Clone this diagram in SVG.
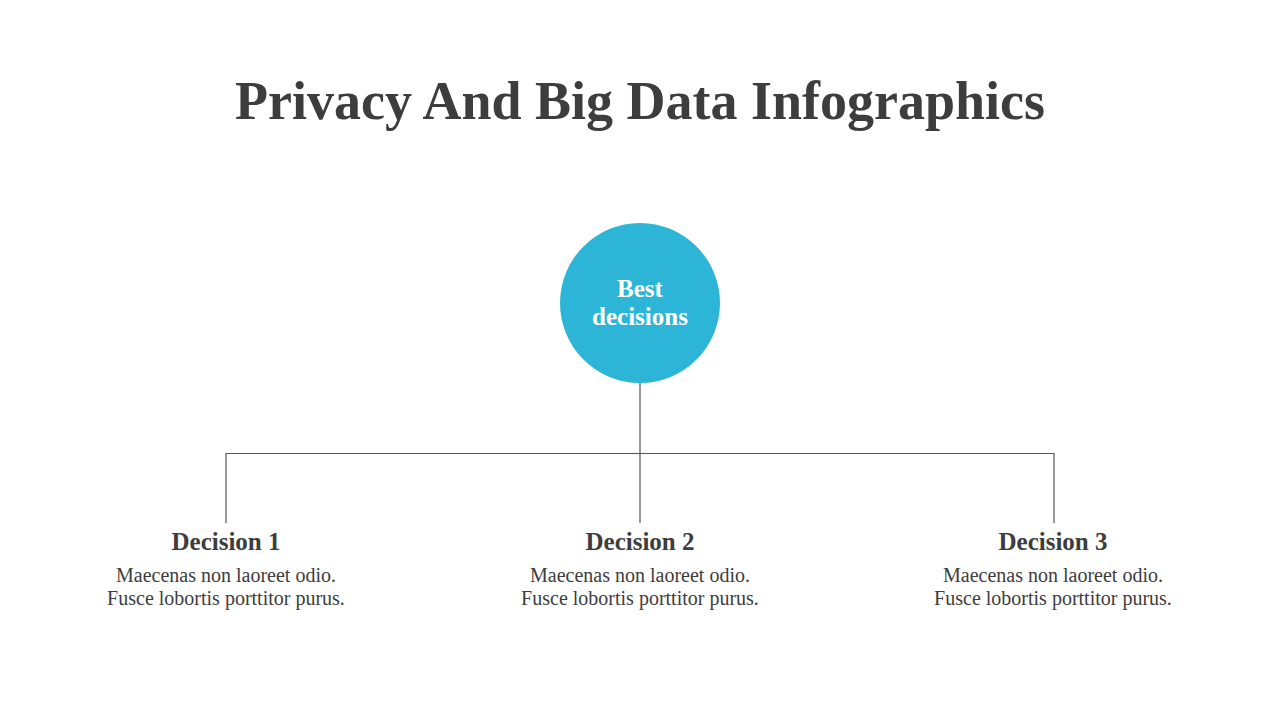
<svg xmlns="http://www.w3.org/2000/svg" width="1280" height="720" viewBox="0 0 1280 720">
<style>
.t{font-family:"Liberation Serif","DejaVu Serif",serif;fill:#3d3d3d}
.h{font-size:25px;font-weight:bold;text-anchor:middle}
.b{font-size:20px;text-anchor:middle}
.c{stroke:#555;stroke-width:1.2;fill:none}
</style>
<rect width="1280" height="720" fill="#fff"/>
<text class="t" x="640" y="119" font-size="54" font-weight="bold" text-anchor="middle">Privacy And Big Data Infographics</text>
<g id="connectors">
<path class="c" d="M640 383V523M226 523V453.5H1054V523"/>
</g>
<g id="center">
<circle cx="640" cy="303" r="80" fill="#2cb5d6"/>
<text x="640" y="297" font-family="Liberation Serif,serif" font-weight="bold" font-size="25" fill="#fff" text-anchor="middle">Best</text>
<text x="640" y="325" font-family="Liberation Serif,serif" font-weight="bold" font-size="25" fill="#fff" text-anchor="middle">decisions</text>
</g>
<g id="d1">
<text class="t h" x="226" y="550">Decision 1</text>
<text class="t b" x="226" y="582">Maecenas non laoreet odio.</text>
<text class="t b" x="226" y="605">Fusce lobortis porttitor purus.</text>
</g>
<g id="d2">
<text class="t h" x="640" y="550">Decision 2</text>
<text class="t b" x="640" y="582">Maecenas non laoreet odio.</text>
<text class="t b" x="640" y="605">Fusce lobortis porttitor purus.</text>
</g>
<g id="d3">
<text class="t h" x="1053" y="550">Decision 3</text>
<text class="t b" x="1053" y="582">Maecenas non laoreet odio.</text>
<text class="t b" x="1053" y="605">Fusce lobortis porttitor purus.</text>
</g>
</svg>
